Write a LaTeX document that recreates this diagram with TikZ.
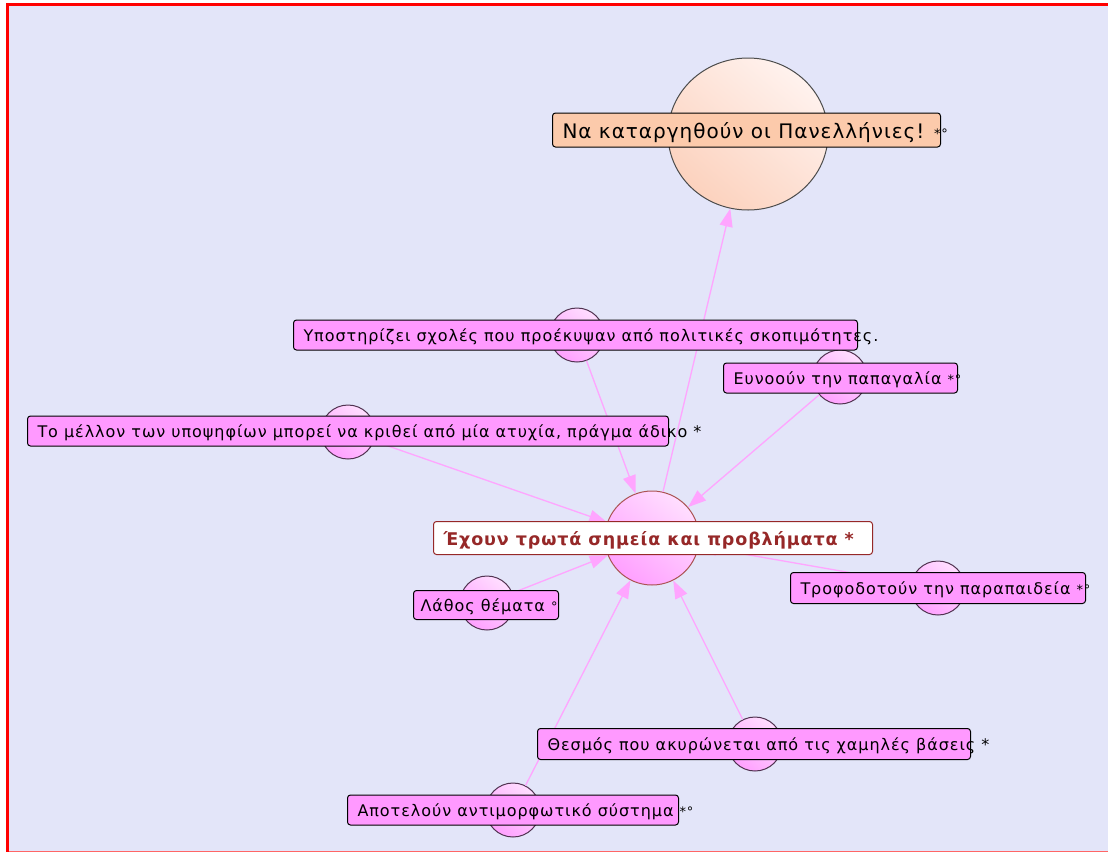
\documentclass[tikz,border=0pt]{standalone}
\usepackage{fontspec}
\setmainfont{DejaVu Sans}[LetterSpace=6]
\newfontfamily\bigfont{DejaVu Sans}[LetterSpace=5]
\usepackage{xcolor}
\usetikzlibrary{arrows.meta, shapes.geometric}

\definecolor{bgblue}{RGB}{227,229,249}
\definecolor{boxpink}{RGB}{255,153,255}
\definecolor{bubdark}{RGB}{255,160,255}
\definecolor{bublight}{RGB}{255,222,255}
\definecolor{bubline}{RGB}{80,50,80}
\definecolor{linkpink}{RGB}{255,165,255}
\definecolor{mainred}{RGB}{150,40,40}
\definecolor{peach}{RGB}{252,210,190}
\definecolor{peachlight}{RGB}{255,242,238}

% fixed-width label text (may run past the box)
\newcommand{\lbl}[2]{\makebox[#1][l]{#2}}
\newcommand{\mk}[1]{{\fontsize{13}{13}\selectfont #1}}

\begin{document}
\begin{tikzpicture}[x=1pt, y=-1pt,
    bubble/.style={circle, draw=bubline, line width=1pt, top color=bublight, bottom color=bubdark, shading angle=-40},
    argbox/.style={anchor=west, draw=black, line width=1pt, rounded corners=3pt, fill=boxpink, inner xsep=10pt, inner ysep=0pt, text depth=0pt, font=\fontsize{16}{16}\selectfont},
    link/.style={color=linkpink, line width=1.3pt, >={Triangle[length=18pt,width=13pt]}}]
    \useasboundingbox (0,0) rectangle (1108,852);
    % background and frame
    \fill[white] (0,0) rectangle (1108,852);
    \fill[bgblue] (9,6) rectangle (1108,851);
    \fill[red] (6,3) rectangle (9,852);
    \fill[red] (6,3) rectangle (1108,6);
    \fill[red!60] (9,851) rectangle (1108,852);

    % bubbles
    \node[ellipse, draw=black!70, line width=1pt, top color=peachlight, bottom color=peach, shading angle=-40, minimum width=160pt, minimum height=152pt] at (748,134) (goal) {};
    \node[bubble, draw=mainred!80, minimum size=94pt] at (652,538) (weak) {};
    \node[bubble, minimum size=54pt] at (577,335) (schools) {};
    \node[bubble, minimum size=54pt] at (840,377) (parrot) {};
    \node[bubble, minimum size=54pt] at (348,432) (future) {};
    \node[bubble, minimum size=54pt] at (487,603) (errors) {};
    \node[bubble, minimum size=54pt] at (938,588) (tutoring) {};
    \node[bubble, minimum size=54pt] at (755,744) (bases) {};
    \node[bubble, minimum size=54pt] at (513,810) (antiedu) {};

    % links
    \path[->, link]
        (weak)     edge (goal)
        (schools)  edge (weak)
        (parrot)   edge (weak)
        (future)   edge (weak)
        (errors)   edge (weak)
        (tutoring) edge (weak)
        (bases)    edge (weak)
        (antiedu)  edge (weak);

    % labels
    \node[argbox, fill=peach!90!orange, minimum height=34pt, font=\bigfont\fontsize{20}{20}\selectfont] at (552,130) (goalbox) {\lbl{368pt}{Να καταργηθούν οι Πανελλήνιες! \mk{*°}}};
    \node[argbox, minimum height=30pt] at (293,335) (schoolsbox) {\lbl{544pt}{Υποστηρίζει σχολές που προέκυψαν από πολιτικές σκοπιμότητες.}};
    \node[argbox, minimum height=30pt] at (723,378) (parrotbox) {\lbl{214pt}{Ευνοούν την παπαγαλία \mk{*°}}};
    \node[argbox, minimum height=30pt] at (27,431) (futurebox) {\lbl{621pt}{Το μέλλον των υποψηφίων μπορεί να κριθεί από μία ατυχία, πράγμα άδικο *}};
    \node[argbox, draw=mainred, fill=white, text=mainred, minimum height=33pt, font=\bigfont\fontsize{17.5}{17.5}\bfseries] at (433,538) (weakbox) {\lbl{419pt}{Έχουν τρωτά σημεία και προβλήματα *}};
    \node[argbox, inner xsep=7pt, minimum height=29pt] at (413,605) (errorsbox) {\lbl{131pt}{Λάθος θέματα \mk{°}}};
    \node[argbox, minimum height=31pt] at (790,588) (tutoringbox) {\lbl{275pt}{Τροφοδοτούν την παραπαιδεία \mk{*°}}};
    \node[argbox, minimum height=31pt] at (537,744) (basesbox) {\lbl{413pt}{Θεσμός που ακυρώνεται από τις χαμηλές βάσεις *}};
    \node[argbox, minimum height=30pt] at (347,810) (antiedubox) {\lbl{311pt}{Αποτελούν αντιμορφωτικό σύστημα \mk{*°}}};
\end{tikzpicture}
\end{document}
